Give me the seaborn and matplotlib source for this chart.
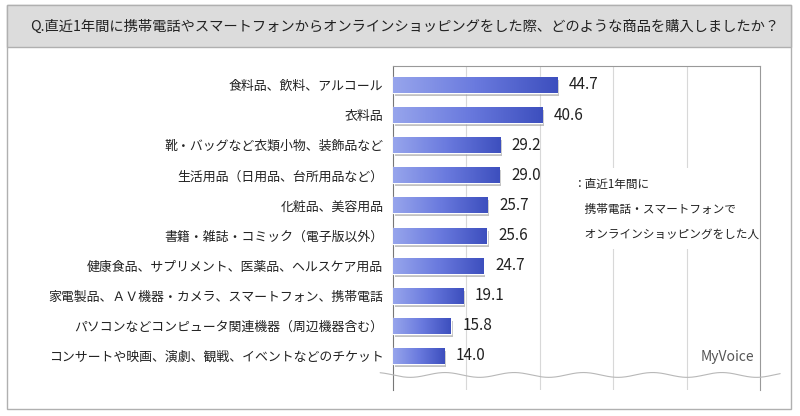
import numpy as np
import pandas as pd
import matplotlib
matplotlib.use("Agg")
import matplotlib.pyplot as plt
import seaborn as sns
from matplotlib.patches import Rectangle
from matplotlib.colors import LinearSegmentedColormap

# データ
items = ["食料品、飲料、アルコール", "衣料品", "靴・バッグなど衣類小物、装飾品など",
         "生活用品（日用品、台所用品など）", "化粧品、美容用品", "書籍・雑誌・コミック（電子版以外）",
         "健康食品、サプリメント、医薬品、ヘルスケア用品", "家電製品、ＡＶ機器・カメラ、スマートフォン、携帯電話",
         "パソコンなどコンピュータ関連機器（周辺機器含む）", "コンサートや映画、演劇、観戦、イベントなどのチケット"]
values = [44.7, 40.6, 29.2, 29.0, 25.7, 25.6, 24.7, 19.1, 15.8, 14.0]
title = "Q.直近1年間に携帯電話やスマートフォンからオンラインショッピングをした際、どのような商品を購入しましたか？"
note = ["：直近1年間に", "　携帯電話・スマートフォンで", "　オンラインショッピングをした人"]

df = pd.DataFrame({"item": items, "value": values})

sns.set_style("white")
plt.rcParams['font.family'] = ['Noto Sans CJK JP', 'DejaVu Sans']

fig = plt.figure(figsize=(8, 4.16), dpi=100)

# 外枠とタイトル帯
fig.patches.append(Rectangle((7/800, 1-409/416), 784/800, 404/416, transform=fig.transFigure,
                             fc="white", ec="#b0b0b0", lw=1, zorder=-3))
fig.patches.append(Rectangle((7/800, 1-47/416), 784/800, 42/416, transform=fig.transFigure,
                             fc="#dcdcdc", ec="#b0b0b0", lw=1, zorder=-2))
fig.text(30/800, 1-27/416, title, fontsize=10.3, va="center", ha="left", color="#222222")

ax = fig.add_axes([393/800, 1-390/416, 367/800, 324/416])
ax.set_facecolor("none")

sns.barplot(data=df, x="value", y="item", ax=ax, color="#5566d0", width=0.53,
            saturation=1, zorder=3)
ax.set_xticks([20, 40, 60, 80])
ax.set_xticklabels([])
ax.tick_params(axis="x", length=0)
ax.tick_params(axis="y", length=0, labelsize=9.3, pad=7, colors="#222222")
ax.set_xlabel("")
ax.set_ylabel("")
ax.grid(axis="x", color="#d8d8d8", lw=0.8, zorder=0)
for s in ["top", "right", "bottom"]:
    ax.spines[s].set_color("#999999")
    ax.spines[s].set_linewidth(0.8)
ax.spines["bottom"].set_visible(False)
ax.spines["left"].set_color("#777777")

# グラデーションと影
cmap = LinearSegmentedColormap.from_list("bar", ["#97a5ec", "#6a7ade", "#3d4fbe"])
grad = np.linspace(0, 1, 256).reshape(1, -1)
for p in list(ax.patches):
    x0, y0 = p.get_x(), p.get_y()
    w, h = p.get_width(), p.get_height()
    sh = Rectangle((x0 + 0.5, y0 + 0.1), w, h, fc="#9a9a9a", ec="none", alpha=0.6, zorder=2)
    ax.add_patch(sh)
    im = ax.imshow(grad, cmap=cmap, aspect="auto", extent=(x0, x0 + w, y0 + h, y0),
                   zorder=3.5, interpolation="bilinear")
    im.set_clip_path(p)
    ax.text(x0 + w + 3.2, y0 + h / 2, f"{w:.1f}", va="center", ha="left",
            fontsize=11, color="#222222", zorder=5)

ax.set_xlim(0, 100)
ax.set_ylim(len(items) - 1 + 1.13, -0.63)

# 注記
ax.add_patch(Rectangle((45, 2.75), 55, 2.7, fc="white", ec="none", zorder=1))
for i, line in enumerate(note):
    ax.text(49, 3.3 + i * 0.83, line, fontsize=8.4, va="center", ha="left", color="#222222", zorder=5)

# 波線
xs = np.linspace(-3.5, 105.5, 400)
ys = 9.63 + 0.08 * np.sin(xs / 100 * 2 * np.pi * 5.3)
ax.plot(xs, ys, color="#b8b8b8", lw=0.8, clip_on=False, zorder=4)

ax.text(98.5, 9.05, "MyVoice", fontsize=10, color="#555555", ha="right", va="center", zorder=5)

fig.savefig("out.png", dpi=100)
